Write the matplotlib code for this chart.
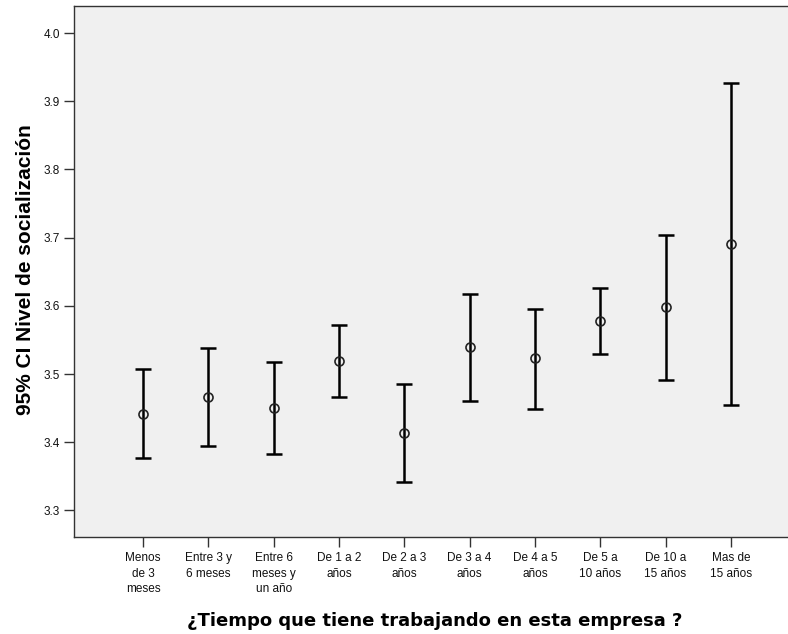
import matplotlib
matplotlib.use("Agg")
import matplotlib.pyplot as plt
import numpy as np

# Tenure groups and 95% confidence intervals of the socialization score
categories = [
    "Menos\nde 3\nmeses",
    "Entre 3 y\n6 meses",
    "Entre 6\nmeses y\nun año",
    "De 1 a 2\naños",
    "De 2 a 3\naños",
    "De 3 a 4\naños",
    "De 4 a 5\naños",
    "De 5 a\n10 años",
    "De 10 a\n15 años",
    "Mas de\n15 años",
]
means = [3.442, 3.466, 3.450, 3.519, 3.413, 3.539, 3.523, 3.578, 3.598, 3.691]
ci_lower = [3.377, 3.394, 3.383, 3.466, 3.341, 3.460, 3.449, 3.530, 3.491, 3.455]
ci_upper = [3.507, 3.538, 3.517, 3.572, 3.485, 3.617, 3.596, 3.626, 3.704, 3.927]
y_ticks = [3.3, 3.4, 3.5, 3.6, 3.7, 3.8, 3.9, 4.0]

W, H = 788, 634
fig = plt.figure(figsize=(W / 100, H / 100), dpi=100)
fig.patch.set_facecolor("white")

# plot frame runs slightly past the right edge of the figure
left, right, top, bottom = 74, 800, 6, 537
ax = fig.add_axes([left / W, (H - bottom) / H, (right - left) / W, (bottom - top) / H])
ax.set_facecolor("#f0f0f0")

x = np.arange(len(categories))
means_a = np.array(means)
yerr = np.vstack([means_a - np.array(ci_lower), np.array(ci_upper) - means_a])

ax.errorbar(x, means_a, yerr=yerr, fmt="none", ecolor="black",
            elinewidth=1.8, capsize=6, capthick=1.8, zorder=2)
ax.plot(x, means_a, linestyle="none", marker="o", markersize=6.5,
        markerfacecolor="none", markeredgecolor="#222222",
        markeredgewidth=1.2, zorder=3)

ax.set_xlim(-1.06, len(categories) - 1 + 1.06)
ax.set_ylim(3.261, 4.0396)
ax.set_yticks(y_ticks)
ax.set_yticklabels([f"{v:.1f}" for v in y_ticks])
ax.set_xticks(x)
ax.set_xticklabels(categories, linespacing=1.4)

for spine in ax.spines.values():
    spine.set_color("#333333")
    spine.set_linewidth(1.0)

ax.tick_params(axis="both", direction="out", length=7, width=1.0,
               color="#333333", labelcolor="#111111")
ax.tick_params(axis="y", pad=3)
ax.tick_params(axis="x", pad=4)
for lab in ax.get_xticklabels() + ax.get_yticklabels():
    lab.set_family("Liberation Sans")
    lab.set_fontsize(8.5)

fig.text(26 / W, 1 - 270 / H, "95% CI Nivel de socialización",
         rotation=90, ha="center", va="center", family="Liberation Sans",
         fontweight="bold", fontsize=15)

fig.text(435 / W, 1 - 621 / H, "¿Tiempo que tiene trabajando en esta empresa ?",
         ha="center", va="center", family="DejaVu Sans",
         fontweight="bold", fontsize=13)

fig.savefig("out.png", dpi=100)
